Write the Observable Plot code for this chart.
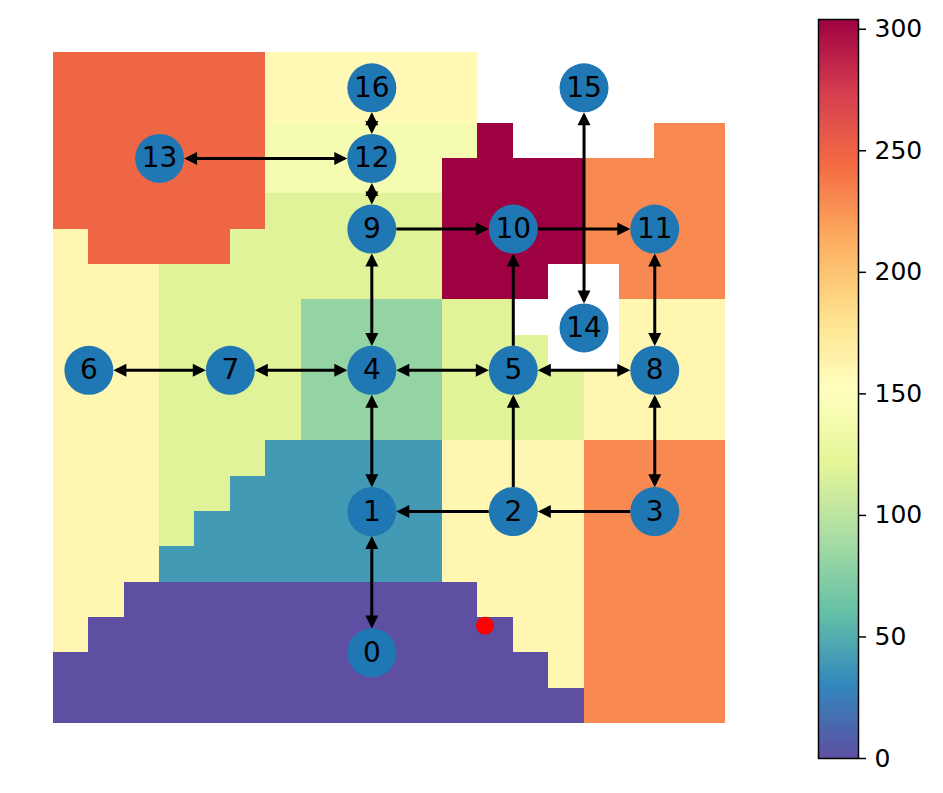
<!DOCTYPE html>
<html><head><meta charset="utf-8">
<script src="https://cdn.jsdelivr.net/npm/d3@7"></script>
<script src="https://cdn.jsdelivr.net/npm/@observablehq/plot@0.6"></script>
<style>
body{margin:0;background:#fff}
#chart{position:relative;width:943px;height:793px;background:#fff}
#main{position:absolute;left:0;top:0}
#cbar{position:absolute;left:790px;top:0}
</style>
</head><body>
<div id="chart"><div id="main"></div><div id="cbar"></div></div>
<script>
const N = null;
// cost grid, 19 x 19 (row 0 at top); null = no value (white)
const cellValues = [
  [248,248,248,248,248,248,158,158,158,158,158,158,N,N,N,N,N,N,N],
  [248,248,248,248,248,248,158,158,158,158,158,158,N,N,N,N,N,N,N],
  [248,248,248,248,248,248,140,140,140,140,140,140,304,N,N,N,N,230,230],
  [248,248,248,248,248,248,140,140,140,140,140,304,304,304,304,230,230,230,230],
  [248,248,248,248,248,248,119,119,119,119,119,304,304,304,304,230,230,230,230],
  [160,248,248,248,248,119,119,119,119,119,119,304,304,304,304,230,230,230,230],
  [160,160,160,119,119,119,119,119,119,119,119,304,304,304,N,N,230,230,230],
  [160,160,160,119,119,119,119,81,81,81,81,119,119,N,N,N,160,160,160],
  [160,160,160,119,119,119,119,81,81,81,81,119,119,119,N,N,160,160,160],
  [160,160,160,119,119,119,119,81,81,81,81,119,119,119,119,160,160,160,160],
  [160,160,160,119,119,119,119,81,81,81,81,119,119,119,119,160,160,160,160],
  [160,160,160,119,119,119,40,40,40,40,40,160,160,160,160,230,230,230,230],
  [160,160,160,119,119,40,40,40,40,40,40,160,160,160,160,230,230,230,230],
  [160,160,160,119,40,40,40,40,40,40,40,160,160,160,160,230,230,230,230],
  [160,160,160,40,40,40,40,40,40,40,40,160,160,160,160,230,230,230,230],
  [160,160,0,0,0,0,0,0,0,0,0,0,160,160,160,230,230,230,230],
  [160,0,0,0,0,0,0,0,0,0,0,0,0,160,160,230,230,230,230],
  [0,0,0,0,0,0,0,0,0,0,0,0,0,0,160,230,230,230,230],
  [0,0,0,0,0,0,0,0,0,0,0,0,0,0,0,230,230,230,230]
];
const colorMax = 304;
const colorbarTicks = [0, 50, 100, 150, 200, 250, 300];

const nodeLabels = ["0","1","2","3","4","5","6","7","8","9","10","11","12","13","14","15","16"];
const nodeX = [9, 9, 13, 17, 9, 13, 1, 5, 17, 9, 13, 17, 9, 3, 15, 15, 9];
const nodeY = [17, 13, 13, 13, 9, 9, 9, 9, 9, 5, 5, 5, 3, 3, 7.8, 1, 1];

const twoWayEdges = [[0,1],[1,4],[3,8],[4,5],[4,7],[7,6],[4,9],[9,12],[12,16],[12,13],[5,8],[8,11],[15,14]];
const oneWayEdges = [[2,1],[3,2],[2,5],[9,10],[10,11],[5,10]];

const startPoint = {x: 12.2, y: 16.23};

// matplotlib Spectral_r (piecewise-linear through the ColorBrewer stops)
const spectralStops = ["#5e4fa2","#3288bd","#66c2a5","#abdda4","#e6f598","#ffffbf","#fee08b","#fdae61","#f46d43","#d53e4f","#9e0142"];
const spectralR = d3.piecewise(d3.interpolateRgb, spectralStops);
const colorScale = {type: "linear", domain: [0, colorMax], interpolate: spectralR};

// geometry settings
const plotW = 760, plotH = 793, mL = 53, mR = 35, mT = 52, mB = 70;
const unitPx = (plotW - mL - mR) / 19;
const nodeR = 24.5, headLen = 13, headW = 13, tipGap = 3;

const cells = [];
cellValues.forEach((row, i) => row.forEach((v, j) => { if (v != null) cells.push({col: j, row: i, v}); }));
const nodes = nodeLabels.map((label, i) => ({label, x: nodeX[i], y: nodeY[i]}));

function makeLink([a, b], startInsetPx, endInsetPx) {
  const A = nodes[a], B = nodes[b];
  const dx = B.x - A.x, dy = B.y - A.y, len = Math.hypot(dx, dy);
  const ux = dx / len, uy = dy / len;
  const s = startInsetPx / unitPx, e = endInsetPx / unitPx;
  return {x1: A.x + ux * s, y1: A.y + uy * s, x2: B.x - ux * e, y2: B.y - uy * e};
}
const twoLinks = twoWayEdges.map(e => makeLink(e, nodeR + tipGap, nodeR + tipGap));
const oneLinks = oneWayEdges.map(e => makeLink(e, nodeR, nodeR + tipGap));

function head(color, context) {
  const m = d3.create("svg:marker")
    .attr("viewBox", `0 ${-headW/2} ${headLen} ${headW}`)
    .attr("markerUnits", "userSpaceOnUse")
    .attr("markerWidth", headLen)
    .attr("markerHeight", headW)
    .attr("refX", headLen - tipGap)
    .attr("refY", 0)
    .attr("orient", "auto-start-reverse")
    .attr("overflow", "visible");
  m.append("path").attr("d", `M0,${-headW/2}L${headLen},0L0,${headW/2}Z`).attr("fill", color).attr("stroke", "none");
  return m.node();
}

const main = Plot.plot({
  width: plotW, height: plotH,
  marginLeft: mL, marginRight: mR, marginTop: mT, marginBottom: mB,
  x: {domain: [0, 19], axis: null},
  y: {domain: [0, 19], reverse: true, axis: null},
  color: colorScale,
  style: {fontFamily: "DejaVu Sans", background: "white"},
  marks: [
    Plot.rect(cells, {x1: "col", x2: d => d.col + 1, y1: "row", y2: d => d.row + 1, fill: "v", shapeRendering: "crispEdges"}),
    Plot.dot([startPoint], {x: "x", y: "y", r: 9, fill: "red"}),
    Plot.link(twoLinks, {x1: "x1", y1: "y1", x2: "x2", y2: "y2", stroke: "black", strokeWidth: 3, markerStart: head, markerEnd: head}),
    Plot.link(oneLinks, {x1: "x1", y1: "y1", x2: "x2", y2: "y2", stroke: "black", strokeWidth: 3, markerEnd: head}),
    Plot.dot(nodes, {x: "x", y: "y", r: nodeR, fill: "#1f77b4"}),
    Plot.text(nodes, {x: "x", y: "y", text: "label", fontSize: 28, fill: "black"})
  ]
});
document.getElementById("main").appendChild(main);

const rampValues = d3.range(0, colorMax, 1);
const cbar = Plot.plot({
  width: 153, height: 793,
  marginLeft: 28, marginRight: 85, marginTop: 19, marginBottom: 35,
  x: {domain: [0, 1], axis: null},
  y: {domain: [0, colorMax], axis: null},
  color: colorScale,
  style: {fontFamily: "DejaVu Sans", background: "white"},
  marks: [
    Plot.rect(rampValues, {x1: 0, x2: 1, y1: d => d, y2: d => d + 1, fill: d => d + 0.5, shapeRendering: "crispEdges"}),
    Plot.frame({stroke: "black", strokeWidth: 1.5}),
    Plot.axisY({anchor: "right", ticks: colorbarTicks, tickSize: 7, tickPadding: 9, fontSize: 25, strokeWidth: 1.5, label: null, tickFormat: d => String(d)})
  ]
});
document.getElementById("cbar").appendChild(cbar);
</script>
</body></html>
